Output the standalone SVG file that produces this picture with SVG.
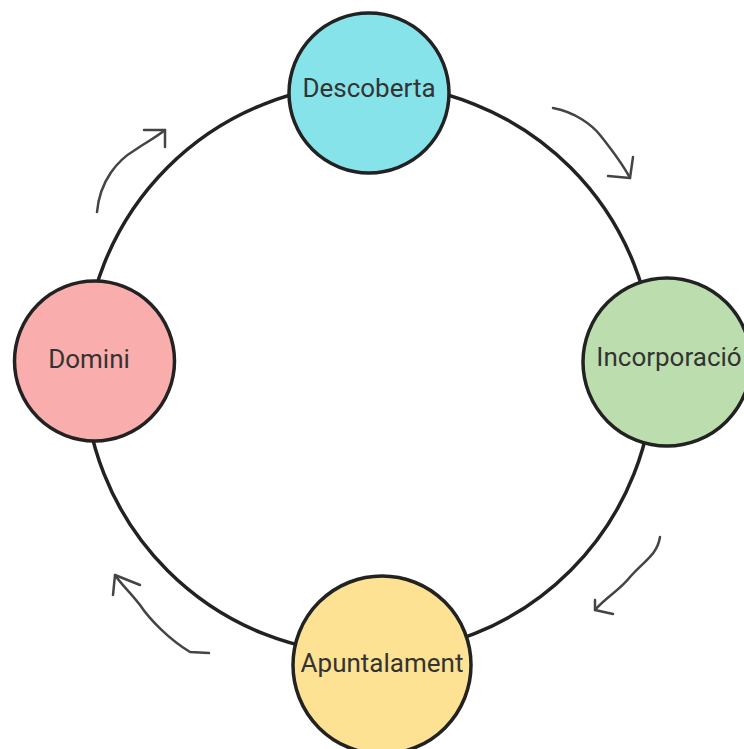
<svg xmlns="http://www.w3.org/2000/svg" width="744" height="749" viewBox="0 0 744 749">
<style>
.ring{fill:none;stroke:#222;stroke-width:3.5}
.node{stroke:#222;stroke-width:3.5}
.lbl{font-family:Roboto,"Liberation Sans",sans-serif;font-size:26px;fill:#333;text-anchor:middle}
.arr{fill:none;stroke:#444;stroke-width:2.5;stroke-linecap:round;stroke-linejoin:round}
</style>
<rect width="744" height="749" fill="#fff"/>
<g id="connectors">
<circle class="ring" cx="369" cy="369" r="285"/>
<path class="arr" d="M97 212 C100 180 118 160 135 150 C145 143 155 138 165 130"/>
<path class="arr" d="M144 130 L165 130 L165 147"/>
<path class="arr" d="M553 108 C575 112 592 125 600 135 C612 150 622 163 630 178"/>
<path class="arr" d="M608 176 L630 178 L633 157"/>
<path class="arr" d="M660 537 C657 555 645 560 630 577 C620 590 605 598 595 610"/>
<path class="arr" d="M595 600 L595 610 L613 614"/>
<path class="arr" d="M209 653 L190 652 C170 640 150 620 140 605 C130 592 120 583 115 575"/>
<path class="arr" d="M140 585 L115 575 L113 595"/>
</g>
<g id="descoberta">
<circle class="node" cx="369" cy="93" r="80" fill="#86E3E9"/>
<text class="lbl" x="369" y="97">Descoberta</text>
</g>
<g id="incorporacio">
<circle class="node" cx="667" cy="362" r="84" fill="#BCDEAF"/>
<text class="lbl" x="669" y="366">Incorporació</text>
</g>
<g id="apuntalament">
<circle class="node" cx="382" cy="665" r="89" fill="#FDE293"/>
<text class="lbl" x="382" y="672">Apuntalament</text>
</g>
<g id="domini">
<circle class="node" cx="94.5" cy="361" r="80" fill="#F9ADAD"/>
<text class="lbl" x="89" y="368">Domini</text>
</g>
</svg>
